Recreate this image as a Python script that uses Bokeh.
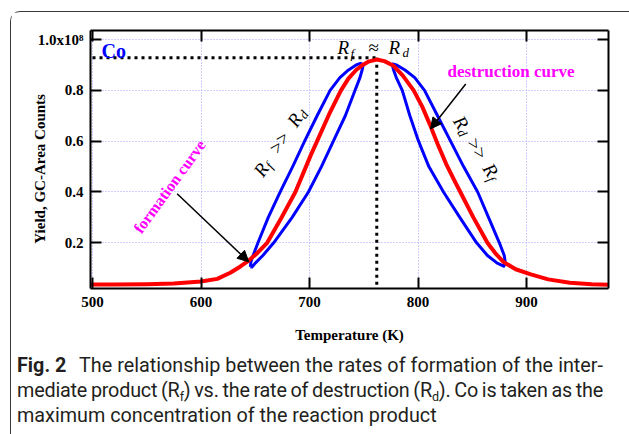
import math
from bokeh.plotting import figure
from bokeh.layouts import column
from bokeh.models import Range1d, LinearAxis, FixedTicker, Label, Arrow, NormalHead, Div
from bokeh.embed import file_html
from bokeh.resources import INLINE

# ---------------- data ----------------
temp_k = [498, 520, 550, 575, 600, 615, 627, 636, 644, 652, 661, 674, 687, 701, 707, 718, 729, 736,
          743, 749, 755, 762, 769, 777, 786, 796, 804, 811, 818, 826, 833, 839, 851, 864, 872, 879,
          890, 904, 920, 940, 960, 976]
yield_counts = [0.036, 0.036, 0.037, 0.040, 0.048, 0.058, 0.082, 0.106, 0.130, 0.160, 0.200, 0.298,
                0.400, 0.543, 0.600, 0.705, 0.800, 0.847, 0.880, 0.900, 0.914, 0.921, 0.915, 0.898,
                0.858, 0.800, 0.735, 0.665, 0.590, 0.510, 0.450, 0.400, 0.300, 0.200, 0.155, 0.124,
                0.096, 0.076, 0.056, 0.043, 0.037, 0.035]

loop_f_t = [645.5, 646, 648, 652.5, 662, 673, 684.5, 695.5, 707, 719, 728, 736, 743, 747, 749.5,
            748.5, 746.5, 742, 733, 722, 711, 699, 684, 667, 657, 650, 647, 645.5]
loop_f_y = [0.105, 0.125, 0.150, 0.200, 0.300, 0.400, 0.500, 0.600, 0.700, 0.800, 0.850, 0.880, 0.900,
            0.906, 0.900, 0.880, 0.850, 0.800, 0.700, 0.600, 0.500, 0.400, 0.300, 0.200, 0.150, 0.120,
            0.105, 0.105]

loop_d_t = [776, 777.5, 780, 785.5, 792.5, 800.5, 810, 823.5, 838.5, 854, 864, 873, 879, 880.5, 879.5,
            875, 865, 855, 842, 830, 818, 806, 797, 788, 780, 776]
loop_d_y = [0.905, 0.880, 0.850, 0.800, 0.700, 0.600, 0.500, 0.400, 0.300, 0.200, 0.150, 0.120, 0.108,
            0.120, 0.150, 0.200, 0.300, 0.400, 0.500, 0.600, 0.700, 0.800, 0.850, 0.880, 0.900, 0.905]

x_ticks = [500, 600, 700, 800, 900]
y_ticks = [0.2, 0.4, 0.6, 0.8, 1.0]
y_tick_labels = ["0.2", "0.4", "0.6", "0.8", "1.0x10\u2078"]

co_level = 0.928
t_peak = 762
t_start = 500
formation_arrow = (578, 0.393, 644, 0.125)
destruction_arrow = (844, 0.825, 811.5, 0.648)

# ---------------- layout (page pixels) ----------------
OX, OY = 11, 12                              # canvas origin on the page
W, H = 618, 342
FL, FT, FW, FH = 90, 30, 518, 258            # plot frame on the page
SX = 1.085                                   # px per K
SY = 254.125                                 # px per unit
X0 = 500 - (92 - FL) / SX
X1 = X0 + FW / SX
Y1 = 1.0 + (39 - FT) / SY
Y0 = Y1 - FH / SY
BASE_FIX = 5                                 # svg label baseline correction (px)


def to_data(xp, yp):
    return X0 + (xp - FL) / SX, Y1 - (yp - FT) / SY


p = figure(width=W, height=H, output_backend="svg", toolbar_location=None,
           x_range=Range1d(X0, X1), y_range=Range1d(Y0, Y1),
           min_border_left=FL - OX, min_border_top=FT - OY,
           min_border_right=W - (FL - OX) - FW, min_border_bottom=H - (FT - OY) - FH)
p.outline_line_color = None
p.background_fill_color = "white"
p.border_fill_color = "white"

SERIF = "Liberation Serif"


def style_axis(ax, ticks, show_labels):
    ax.ticker = FixedTicker(ticks=ticks)
    ax.axis_line_width = 2
    ax.axis_line_color = "black"
    ax.major_tick_in = 11
    ax.major_tick_out = 0
    ax.major_tick_line_width = 2
    ax.major_tick_line_color = "black"
    ax.minor_tick_in = 0
    ax.minor_tick_out = 0
    ax.major_label_text_font = SERIF
    ax.major_label_text_font_style = "bold"
    ax.major_label_text_font_size = "15px"
    ax.major_label_text_color = "black"
    if show_labels:
        ax.axis_label_text_font = SERIF
        ax.axis_label_text_font_style = "bold"
        ax.axis_label_text_font_size = "15px"
        ax.axis_label_text_color = "black"
    else:
        ax.major_label_overrides = {t: "" for t in ticks}
        ax.major_label_standoff = 0


xa = p.xaxis[0]
style_axis(xa, x_ticks, True)
xa.major_label_standoff = 8
xa.axis_label = "Temperature (K)"
xa.axis_label_standoff = 17

ya = p.yaxis[0]
style_axis(ya, y_ticks, True)
ya.major_label_standoff = 7
ya.major_label_overrides = {t: s for t, s in zip(y_ticks, y_tick_labels)}
ya.axis_label = "Yield, GC-Area Counts" + "\u00a0" * 5
ya.axis_label_standoff = -13

top_ax = LinearAxis()
style_axis(top_ax, x_ticks, False)
p.add_layout(top_ax, "above")
right_ax = LinearAxis()
style_axis(right_ax, y_ticks, False)
p.add_layout(right_ax, "right")

for g, t in ((p.xgrid[0], x_ticks), (p.ygrid[0], y_ticks)):
    g.ticker = FixedTicker(ticks=t)
    g.grid_line_color = "#9d9dff"
    g.grid_line_dash = "1 2"
    g.grid_line_width = 1

# dotted reference lines
p.line([t_start, t_peak], [co_level, co_level], line_color="black", line_width=3, line_dash="3 4")
p.line([t_peak, t_peak], [co_level, Y0], line_color="black", line_width=3, line_dash="3 4")

# curves
p.line(loop_f_t, loop_f_y, line_color="#0000ff", line_width=3, line_join="round")
p.line(loop_d_t, loop_d_y, line_color="#0000ff", line_width=3, line_join="round")
p.line(temp_k, yield_counts, line_color="#ff0000", line_width=4, line_join="round")

for (xs, ys, xe, ye) in (formation_arrow, destruction_arrow):
    p.add_layout(Arrow(x_start=xs, y_start=ys, x_end=xe, y_end=ye, line_width=1.5, line_color="black",
                       end=NormalHead(size=11, fill_color="black", line_color="black")))


def lab(xp, yp, text, size, color="black", font=SERIF, style="normal", angle=0.0,
        align="left", baseline="alphabetic"):
    if baseline == "alphabetic":
        xp -= BASE_FIX * math.sin(angle)
        yp -= BASE_FIX * math.cos(angle)
    x, y = to_data(xp, yp)
    p.add_layout(Label(x=x, y=y, text=text, text_font=font, text_font_size=f"{size}px",
                       text_font_style=style, text_color=color, angle=angle,
                       text_align=align, text_baseline=baseline))


def rot_text(p0, phi_deg, segs):
    ph = math.radians(phi_deg)
    ux, uy = math.cos(ph), -math.sin(ph)
    nx, ny = -math.sin(ph), -math.cos(ph)
    for along, up, text, size, style in segs:
        lab(p0[0] + along * ux + up * nx, p0[1] + along * uy + up * ny, text, size,
            style=style, angle=ph)


# in-plot annotations
lab(101, 55, "Co", 20, color="#0000ff", style="bold")
lab(337, 52, "R", 19, style="italic")
lab(350, 58, "f", 13, style="italic")
lab(368, 52, "\u2248", 19)
lab(388, 52, "R", 19, style="italic")
lab(402, 57, "d", 13, style="italic")

rot_text((261.4, 176.8), 56, [(0, 0, "R", 19, "italic"), (12, -4.5, "f", 13, "italic"),
                              (28, 0, ">>", 19, "normal"), (60, 0, "R", 19, "italic"),
                              (72, -4.5, "d", 13, "italic")])
rot_text((453.2, 119.6), -58, [(0, 0, "R", 19, "italic"), (12, -4.5, "d", 13, "italic"),
                               (26, 0, ">>", 19, "normal"), (56, 0, "R", 19, "italic"),
                               (68, -4.5, "f", 13, "italic")])

lab(169, 186, "formation curve", 16, color="#ff00ff", style="bold", angle=math.radians(54),
    align="center", baseline="middle")
lab(447, 75.5, "destruction curve", 17, color="#ff00ff", style="bold")

# caption
sub = "font-size:12.5px;vertical-align:-4px;line-height:0"
line_css = "height:25px;line-height:25px;white-space:nowrap;"
just_css = "text-align:justify;text-align-last:justify;"
caption_html = (
    "<div style=\"font-family:Roboto,sans-serif;font-size:19.8px;color:#231f20;"
    "position:relative;top:-6px;padding-left:1px;margin:0\">"
    f"<div style=\"{line_css}\"><b style=\"display:inline-block;width:62px\">Fig.&nbsp;2</b>"
    f"<span style=\"display:inline-block;width:524px;{just_css}\">"
    "The relationship between the rates of formation of the inter-</span></div>"
    f"<div style=\"{line_css}width:586px;overflow:hidden;word-spacing:-2.5px;letter-spacing:-0.2px;{just_css}\">"
    f"mediate product (R<span style=\"{sub}\">f</span>) vs. the rate of destruction "
    f"(R<span style=\"{sub}\">d</span>). Co is taken as the</div>"
    f"<div style=\"{line_css}\">maximum concentration of the reaction product</div>"
    "</div>"
)
cap = Div(text=caption_html, width=W, height=78)

layout = column(p, cap, margin=(OY - 1, 0, 0, OX - 1),
                styles={"border-top": "1px solid #3a3a3a", "border-left": "1px solid #3a3a3a",
                        "border-top-left-radius": "10px"})

open("out.html", "w").write(file_html(layout, INLINE))
